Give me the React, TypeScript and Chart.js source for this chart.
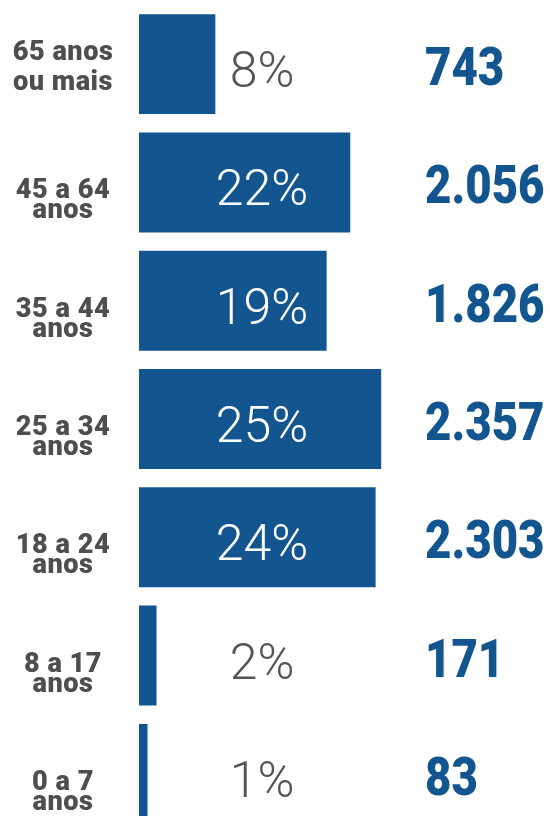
import { useEffect, useRef } from "react";
import { Chart, registerables } from "chart.js";

Chart.register(...registerables);

const categories: string[][] = [
  ["65 anos", "ou mais"],
  ["45 a 64", "anos"],
  ["35 a 44", "anos"],
  ["25 a 34", "anos"],
  ["18 a 24", "anos"],
  ["8 a 17", "anos"],
  ["0 a 7", "anos"],
];
const counts = [743, 2056, 1826, 2357, 2303, 171, 83];
const percents = [8, 22, 19, 25, 24, 2, 1];
const countLabels = ["743", "2.056", "1.826", "2.357", "2.303", "171", "83"];

const BLUE = "#13568f";
const GREY = "#555555";
const LABEL_GREY = "#4e4e4e";

function squeezedText(
  ctx: CanvasRenderingContext2D,
  text: string,
  x: number,
  y: number,
  sx: number,
  align: CanvasTextAlign
) {
  ctx.save();
  ctx.translate(x, y);
  ctx.scale(sx, 1);
  ctx.textAlign = align;
  ctx.fillText(text, 0, 0);
  ctx.restore();
}

const labelsPlugin = {
  id: "customLabels",
  afterDatasetsDraw(chart: any) {
    const ctx: CanvasRenderingContext2D = chart.ctx;
    const meta = chart.getDatasetMeta(0);
    ctx.save();
    ctx.textBaseline = "alphabetic";
    meta.data.forEach((el: any, i: number) => {
      const y = el.y;
      // left category labels
      ctx.font = `900 28px Roboto, sans-serif`;
      (ctx as any).letterSpacing = "0.5px";
      ctx.fillStyle = LABEL_GREY;
      const lines = categories[i];
      if (i === 0) {
        squeezedText(ctx, lines[0], 63, y - 4, 0.97, "center");
        squeezedText(ctx, lines[1], 63, y + 26, 0.97, "center");
      } else {
        squeezedText(ctx, lines[0], 63, y + 16, 0.97, "center");
        squeezedText(ctx, lines[1], 63, y + 36, 0.97, "center");
      }
      // percentage labels
      ctx.font = `300 50px Roboto, "Open Sans", sans-serif`;
      (ctx as any).letterSpacing = "0px";
      const ptxt = `${percents[i]}%`;
      const w = ctx.measureText(ptxt).width;
      const cx = 262;
      ctx.fillStyle = el.x > cx + w / 2 ? "#ffffff" : GREY;
      squeezedText(ctx, ptxt, cx, y + 23, 1, "center");
      // count labels
      ctx.font = `900 53px Roboto, sans-serif`;
      (ctx as any).letterSpacing = "0px";
      ctx.fillStyle = BLUE;
      squeezedText(ctx, countLabels[i], 425, y + 21, 0.86, "left");
    });
    ctx.restore();
  },
};

export default function App() {
  const ref = useRef<HTMLCanvasElement>(null);
  useEffect(() => {
    if (!ref.current) return;
    const chart = new Chart(ref.current, {
      type: "bar",
      data: {
        labels: categories.map((c) => c.join(" ")),
        datasets: [
          {
            data: counts,
            backgroundColor: BLUE,
            borderWidth: 0,
            barPercentage: 0.845,
            categoryPercentage: 1,
          },
        ],
      },
      options: {
        indexAxis: "y",
        responsive: false,
        animation: false,
        layout: { padding: { left: 139, right: 0, top: 5, bottom: 0 } },
        plugins: { legend: { display: false }, tooltip: { enabled: false } },
        scales: {
          x: { display: false, min: 0, max: 4000 },
          y: { display: false },
        },
      },
      plugins: [labelsPlugin],
    });
    return () => chart.destroy();
  }, []);
  return (
    <div
      style={{
        position: "fixed",
        left: 0,
        top: 0,
        width: 550,
        height: 816,
        overflow: "hidden",
        background: "#ffffff",
      }}
    >
      <canvas ref={ref} width={550} height={833} style={{ display: "block" }} />
    </div>
  );
}
